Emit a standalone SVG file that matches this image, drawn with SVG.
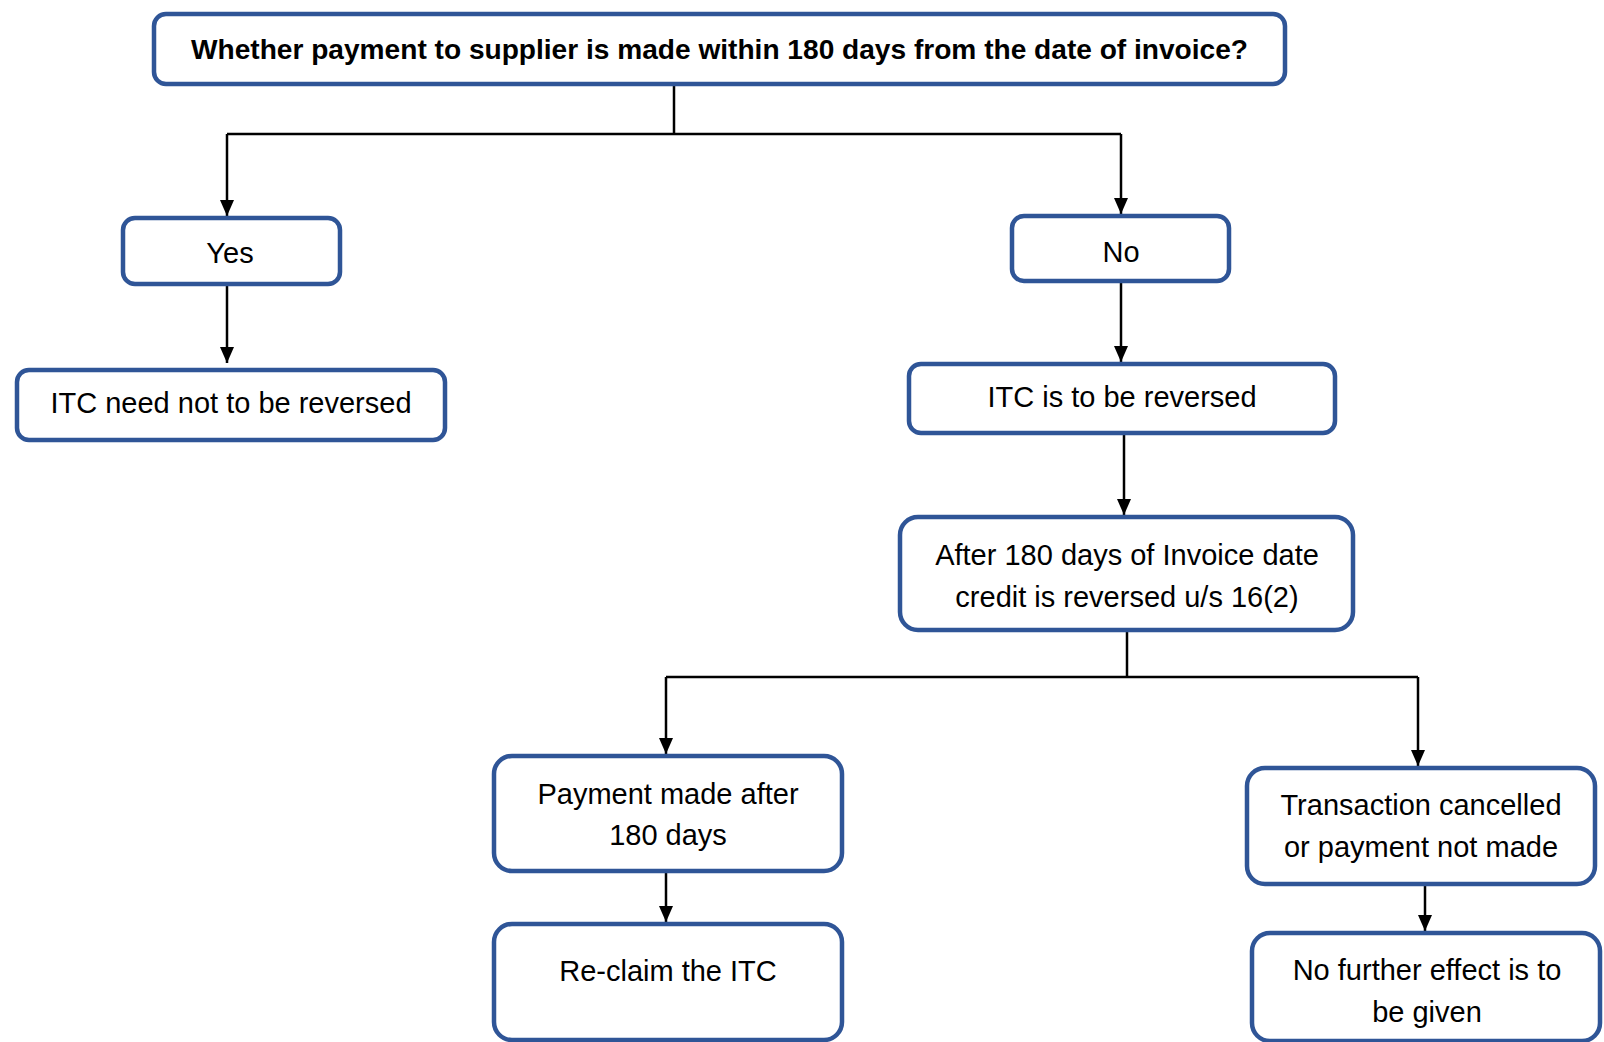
<svg xmlns="http://www.w3.org/2000/svg" width="1604" height="1042" viewBox="0 0 1604 1042">
<style>
.box{fill:#fff;stroke:#2f5597;stroke-width:4.5}
.t{font-family:"Liberation Sans",Arial,sans-serif;font-size:29px;fill:#000;text-anchor:middle}
.b{font-weight:bold;font-size:28px}
.c{fill:none;stroke:#000;stroke-width:2.5}
</style>
<defs>
<marker id="ah" viewBox="0 0 16 14" markerWidth="16" markerHeight="14" refX="16" refY="7" orient="auto" markerUnits="userSpaceOnUse">
<path d="M0,0 L16,7 L0,14 z" fill="#000"/>
</marker>
</defs>
<rect width="1604" height="1042" fill="#fff"/>
<g id="connectors">
<path class="c" d="M674 84 V134"/>
<path class="c" d="M227 134 H1121"/>
<path class="c" d="M227 134 V216" marker-end="url(#ah)"/>
<path class="c" d="M1121 134 V214" marker-end="url(#ah)"/>
<path class="c" d="M227 285 V363" marker-end="url(#ah)"/>
<path class="c" d="M1121 283 V362" marker-end="url(#ah)"/>
<path class="c" d="M1124 435 V515" marker-end="url(#ah)"/>
<path class="c" d="M1127 631 V677"/>
<path class="c" d="M666 677 H1418"/>
<path class="c" d="M666 677 V754" marker-end="url(#ah)"/>
<path class="c" d="M1418 677 V766" marker-end="url(#ah)"/>
<path class="c" d="M666 873 V922" marker-end="url(#ah)"/>
<path class="c" d="M1425 886 V931" marker-end="url(#ah)"/>
</g>
<g id="question">
<rect class="box" x="154" y="14" width="1131" height="70" rx="12"/>
<text class="t b" x="719.5" y="59" textLength="1057" lengthAdjust="spacingAndGlyphs">Whether payment to supplier is made within 180 days from the date of invoice?</text>
</g>
<g id="yes">
<rect class="box" x="123" y="218" width="217" height="66" rx="12"/>
<text class="t" x="230" y="263">Yes</text>
</g>
<g id="no">
<rect class="box" x="1012" y="216" width="217" height="65" rx="12"/>
<text class="t" x="1121" y="262">No</text>
</g>
<g id="itc-not-reversed">
<rect class="box" x="17" y="370" width="428" height="70" rx="12"/>
<text class="t" x="231" y="413">ITC need not to be reversed</text>
</g>
<g id="itc-reversed">
<rect class="box" x="909" y="364" width="426" height="69" rx="12"/>
<text class="t" x="1122" y="407">ITC is to be reversed</text>
</g>
<g id="after-180">
<rect class="box" x="900" y="517" width="453" height="113" rx="18"/>
<text class="t" x="1127" y="565">After 180 days of Invoice date</text>
<text class="t" x="1127" y="607">credit is reversed u/s 16(2)</text>
</g>
<g id="payment-made">
<rect class="box" x="494" y="756" width="348" height="115" rx="18"/>
<text class="t" x="668" y="804">Payment made after</text>
<text class="t" x="668" y="845">180 days</text>
</g>
<g id="reclaim">
<rect class="box" x="494" y="924" width="348" height="116" rx="18"/>
<text class="t" x="668" y="981">Re-claim the ITC</text>
</g>
<g id="cancelled">
<rect class="box" x="1247" y="768" width="348" height="116" rx="18"/>
<text class="t" x="1421" y="815">Transaction cancelled</text>
<text class="t" x="1421" y="857">or payment not made</text>
</g>
<g id="no-effect">
<rect class="box" x="1252" y="933" width="348" height="108" rx="18"/>
<text class="t" x="1427" y="980">No further effect is to</text>
<text class="t" x="1427" y="1022">be given</text>
</g>
</svg>
